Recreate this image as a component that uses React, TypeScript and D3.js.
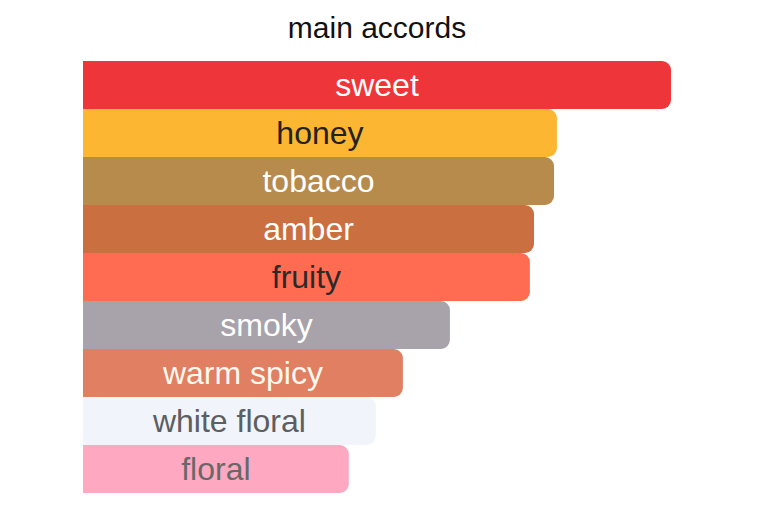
import React from 'react';
import * as d3 from 'd3';

const accords = ['sweet', 'honey', 'tobacco', 'amber', 'fruity', 'smoky', 'warm spicy', 'white floral', 'floral'];
const strengths = [100, 80.6, 80.1, 76.7, 76.0, 62.4, 54.4, 49.8, 45.2];
const barColors = ['#ee353a', '#fcb631', '#b78b4b', '#c96f40', '#ff6c52', '#a8a2ab', '#e07f61', '#f1f5fb', '#ffa8c2'];
const textColors = ['#ffffff', '#222222', '#ffffff', '#ffffff', '#2a2a2a', '#ffffff', '#fff8ee', '#5c5e62', '#686868'];

const W = 758;
const H = 528;
const margin = { top: 61, left: 83, right: 87 };
const rowH = 48;
const radius = 9;

// rect with rounded right corners only
function barPath(x0: number, x1: number, y0: number, h: number, r: number) {
    const rr = Math.min(r, (x1 - x0) / 2, h / 2);
    return `M${x0},${y0}H${x1 - rr}A${rr},${rr} 0 0 1 ${x1},${y0 + rr}V${y0 + h - rr}A${rr},${rr} 0 0 1 ${x1 - rr},${y0 + h}H${x0}Z`;
}

export default function App() {
    const x = d3.scaleLinear().domain([0, 100]).range([margin.left, W - margin.right]);
    const y = d3.scaleBand<string>()
        .domain(accords)
        .range([margin.top, margin.top + rowH * accords.length])
        .padding(0);

    return (
        <svg width={W} height={H} style={{ position: 'absolute', left: 0, top: 0, background: '#fff' }}
            fontFamily="'Liberation Sans', Arial, Helvetica, sans-serif">
            <text x={377} y={37.5} textAnchor="middle" fontSize={30} fill="#111">main accords</text>
            {accords.map((name, i) => {
                const y0 = y(name) as number;
                const x1 = x(strengths[i]);
                return (
                    <g key={name}>
                        <path d={barPath(x(0), x1, y0, y.bandwidth(), radius)} fill={barColors[i]} />
                        <text x={(x(0) + x1) / 2} y={y0 + y.bandwidth() / 2} dy="0.35em" textAnchor="middle"
                            fontSize={32} fill={textColors[i]}>{name}</text>
                    </g>
                );
            })}
        </svg>
    );
}
